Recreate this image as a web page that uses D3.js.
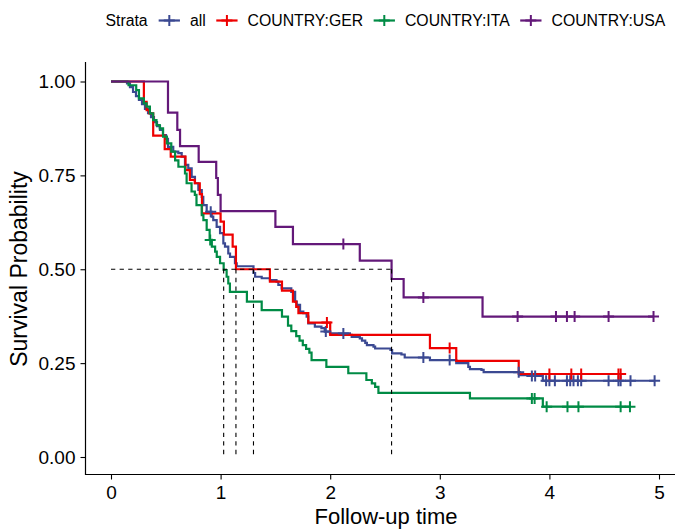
<!DOCTYPE html>
<html>
<head>
<meta charset="utf-8">
<title>Survival curves by country</title>
<script src="https://cdn.jsdelivr.net/npm/d3@7"></script>
<style>
  body { margin: 0; background: #fff; }
  svg { display: block; font-family: "Liberation Sans", Arial, sans-serif; }
</style>
</head>
<body>
<svg id="chart" width="675" height="529"></svg>
<script>
// strata + palette (ggsci aaas)
const strata = ["all", "COUNTRY:GER", "COUNTRY:ITA", "COUNTRY:USA"];
const colors = ["#3B4992", "#EE0000", "#008B45", "#631879"];

// all
const allTime = [0, 0.146, 0.173, 0.201, 0.228, 0.255, 0.283, 0.31, 0.338, 0.365, 0.392, 0.42, 0.447, 0.474, 0.502, 0.52, 0.568, 0.614, 0.645, 0.675, 0.705, 0.736, 0.766, 0.797, 0.828, 0.842, 0.873, 0.919, 0.933, 0.964, 0.995, 1.025, 1.04, 1.07, 1.086, 1.131, 1.147, 1.30, 1.315, 1.375, 1.45, 1.51, 1.527, 1.557, 1.645, 1.68, 1.695, 1.725, 1.755, 1.785, 1.80, 1.86, 1.92, 1.95, 1.998, 2.18, 2.196, 2.27, 2.29, 2.32, 2.335, 2.395, 2.41, 2.55, 2.565, 2.65, 2.68, 2.91, 3.15, 3.26, 3.275, 3.38, 3.40, 3.73, 3.84, 3.94];
const allSurv = [1, 0.995, 0.985, 0.972, 0.961, 0.951, 0.940, 0.927, 0.916, 0.905, 0.892, 0.881, 0.871, 0.857, 0.847, 0.826, 0.813, 0.809, 0.80, 0.778, 0.769, 0.746, 0.729, 0.711, 0.693, 0.671, 0.653, 0.64, 0.631, 0.613, 0.596, 0.569, 0.56, 0.542, 0.533, 0.516, 0.508, 0.49, 0.48, 0.476, 0.471, 0.467, 0.458, 0.449, 0.44, 0.414, 0.405, 0.387, 0.383, 0.374, 0.356, 0.347, 0.343, 0.334, 0.329, 0.325, 0.32, 0.316, 0.31, 0.304, 0.298, 0.294, 0.289, 0.285, 0.276, 0.273, 0.265, 0.258, 0.25, 0.24, 0.234, 0.232, 0.226, 0.218, 0.216, 0.203];
const allCensor = [0.91, 1.96, 2.12, 2.85, 3.09, 3.72, 3.84, 3.87, 3.97, 4.0, 4.05, 4.16, 4.19, 4.22, 4.26, 4.29, 4.54, 4.63, 4.65, 4.74, 4.96];

// COUNTRY:GER
const gerTime = [0, 0.30, 0.325, 0.35, 0.385, 0.49, 0.545, 0.68, 0.72, 0.765, 0.81, 0.83, 1.0, 1.03, 1.11, 1.14, 1.45, 1.56, 1.66, 1.69, 1.71, 1.80, 2.0, 2.91, 3.15, 3.72];
const gerSurv = [1, 0.946, 0.924, 0.915, 0.856, 0.82, 0.80, 0.764, 0.738, 0.729, 0.70, 0.649, 0.627, 0.592, 0.56, 0.5, 0.467, 0.443, 0.414, 0.40, 0.383, 0.358, 0.325, 0.29, 0.256, 0.221];
const gerCensor = [1.97, 3.09, 4.0, 4.2, 4.29, 4.63, 4.65];

// COUNTRY:ITA
const itaTime = [0, 0.16, 0.23, 0.255, 0.30, 0.325, 0.355, 0.385, 0.415, 0.445, 0.475, 0.51, 0.55, 0.585, 0.615, 0.675, 0.69, 0.735, 0.765, 0.78, 0.828, 0.843, 0.873, 0.90, 0.92, 0.95, 0.965, 0.995, 1.028, 1.055, 1.07, 1.085, 1.24, 1.375, 1.56, 1.615, 1.645, 1.69, 1.72, 1.75, 1.78, 1.81, 1.83, 1.965, 2.165, 2.33, 2.38, 2.41, 2.44, 3.275, 3.94];
const itaSurv = [1, 0.99, 0.977, 0.955, 0.942, 0.933, 0.915, 0.897, 0.884, 0.875, 0.853, 0.835, 0.813, 0.79, 0.773, 0.755, 0.729, 0.707, 0.698, 0.671, 0.644, 0.631, 0.605, 0.578, 0.56, 0.547, 0.533, 0.516, 0.498, 0.48, 0.462, 0.44, 0.414, 0.391, 0.374, 0.35, 0.335, 0.322, 0.31, 0.298, 0.288, 0.278, 0.258, 0.24, 0.223, 0.205, 0.196, 0.187, 0.171, 0.156, 0.134];
const itaCensor = [0.905, 3.84, 3.865, 3.975, 4.165, 4.265, 4.65, 4.735];

// COUNTRY:USA
const usaTime = [0, 0.52, 0.605, 0.63, 0.80, 0.96, 0.975, 1.0, 1.50, 1.66, 2.27, 2.56, 2.67, 3.39];
const usaSurv = [1, 0.917, 0.871, 0.828, 0.786, 0.743, 0.698, 0.655, 0.613, 0.567, 0.523, 0.474, 0.425, 0.374];
const usaCensor = [2.12, 2.85, 3.71, 4.06, 4.16, 4.23, 4.54, 4.95];

// median survival times (ITA, GER, all, USA)
const medianTimes = [1.028, 1.14, 1.30, 2.56];

const xTicks = [0, 1, 2, 3, 4, 5];
const yTicks = [0, 0.25, 0.5, 0.75, 1];

const curves = [
  { time: allTime, surv: allSurv, censor: allCensor },
  { time: gerTime, surv: gerSurv, censor: gerCensor },
  { time: itaTime, surv: itaSurv, censor: itaCensor },
  { time: usaTime, surv: usaSurv, censor: usaCensor }
];

const svg = d3.select("#chart");
const W = 675;

const x = d3.scaleLinear().domain([0, 5]).range([111, 659]);
const y = d3.scaleLinear().domain([0, 1]).range([457, 81.5]);
const panelLeft = 85.5, panelTop = 62, panelBottom = 474.5;

// step value at time t
function survAt(c, t) {
  let s = 1;
  for (let i = 0; i < c.time.length; i++) if (c.time[i] <= t) s = c.surv[i];
  return s;
}

// curves
const line = d3.line().x(d => x(d[0])).y(d => y(d[1])).curve(d3.curveStepAfter);
const gCurves = svg.append("g");
curves.forEach((c, i) => {
  const pts = c.time.map((t, k) => [t, c.surv[k]]);
  const end = Math.max(d3.max(c.time), d3.max(c.censor));
  pts.push([end, survAt(c, end)]);
  gCurves.append("path")
    .attr("d", line(pts))
    .attr("fill", "none")
    .attr("stroke", colors[i])
    .attr("stroke-width", 2.2);
});

// censor marks
const gCens = svg.append("g");
const arm = 5.5;
curves.forEach((c, i) => {
  c.censor.forEach(t => {
    const cx = x(t), cy = y(survAt(c, t));
    gCens.append("path")
      .attr("d", `M${cx - arm},${cy}H${cx + arm}M${cx},${cy - arm}V${cy + arm}`)
      .attr("stroke", colors[i])
      .attr("stroke-width", 2)
      .attr("fill", "none");
  });
});

// median lines
const gMed = svg.append("g")
  .attr("stroke", "#000")
  .attr("stroke-width", 1.1)
  .attr("stroke-dasharray", "4.3,4.3")
  .attr("fill", "none");
gMed.append("line")
  .attr("x1", x(0)).attr("x2", x(d3.max(medianTimes)))
  .attr("y1", y(0.5)).attr("y2", y(0.5));
medianTimes.forEach(t => {
  gMed.append("line")
    .attr("x1", x(t)).attr("x2", x(t))
    .attr("y1", y(0.5)).attr("y2", y(0));
});

// axes
const yAxis = svg.append("g")
  .attr("transform", `translate(${panelLeft},0)`)
  .call(d3.axisLeft(y).tickValues(yTicks).tickFormat(d3.format(".2f")).tickSize(5).tickPadding(5));
const xAxis = svg.append("g")
  .attr("transform", `translate(0,${panelBottom})`)
  .call(d3.axisBottom(x).tickValues(xTicks).tickFormat(d3.format("d")).tickSize(5).tickPadding(6));
[yAxis, xAxis].forEach(a => {
  a.select(".domain").remove();
  a.selectAll(".tick line").attr("stroke", "#000").attr("stroke-width", 1.1);
  a.selectAll(".tick text").attr("fill", "#000").style("font-size", "19px")
    .style("font-family", "'Liberation Sans', Arial, sans-serif");
});
svg.append("line")
  .attr("x1", panelLeft).attr("x2", panelLeft)
  .attr("y1", panelTop).attr("y2", panelBottom + 0.5)
  .attr("stroke", "#000").attr("stroke-width", 1.2);
svg.append("line")
  .attr("x1", panelLeft - 0.5).attr("x2", W)
  .attr("y1", panelBottom).attr("y2", panelBottom)
  .attr("stroke", "#000").attr("stroke-width", 1.2);

// axis titles
svg.append("text")
  .attr("x", 386).attr("y", 524)
  .attr("text-anchor", "middle")
  .style("font-size", "22px")
  .text("Follow-up time");
svg.append("text")
  .attr("transform", "translate(27,269) rotate(-90)")
  .attr("text-anchor", "middle")
  .style("font-size", "23px")
  .text("Survival Probability");

// legend
const gLeg = svg.append("g").style("font-size", "15.8px");
let lx = 105.5;
const ly = 26, lk = 20.5;
const title = gLeg.append("text").attr("x", lx).attr("y", ly).text("Strata");
lx += title.node().getComputedTextLength() + 11;
strata.forEach((s, i) => {
  const kw = 21.3;
  gLeg.append("line")
    .attr("x1", lx).attr("x2", lx + kw).attr("y1", lk).attr("y2", lk)
    .attr("stroke", colors[i]).attr("stroke-width", 2.2);
  const cx = lx + kw / 2;
  gLeg.append("path")
    .attr("d", `M${cx - arm},${lk}H${cx + arm}M${cx},${lk - arm}V${lk + arm}`)
    .attr("stroke", colors[i]).attr("stroke-width", 2);
  lx += kw + 10;
  const t = gLeg.append("text").attr("x", lx).attr("y", ly).text(s);
  lx += t.node().getComputedTextLength() + 10.5;
});
</script>
</body>
</html>
